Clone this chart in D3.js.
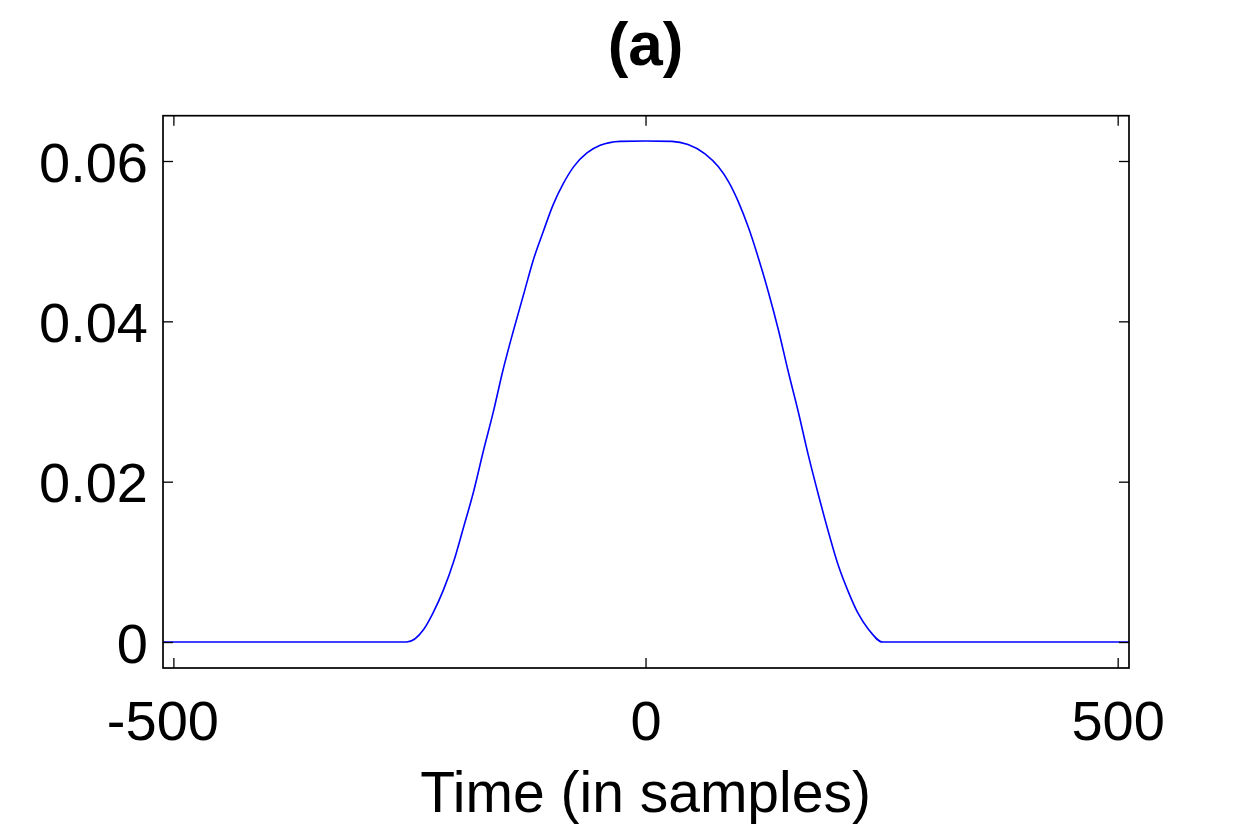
<!DOCTYPE html>
<html>
<head>
<meta charset="utf-8">
<script src="https://cdn.jsdelivr.net/npm/d3@7"></script>
<style>
  body { margin: 0; background: #fff; }
  svg text { font-family: "Liberation Sans", Arial, sans-serif; fill: #000; }
</style>
</head>
<body>
<svg id="pulseViz" width="1248" height="832"></svg>
<script>
// values
const timeSamples = [-511, -253, -235, -225, -214, -203, -193, -182, -172, -161, -151, -140, -129,
  -119, -108, -98, -87, -76, -62, -48, -27, 0, 28, 45, 63, 77, 88, 98, 109, 119, 130, 141, 151,
  162, 172, 183, 194, 204, 215, 225, 236, 251, 512];
const pulseValues = [0, 0, 0.00156, 0.00364, 0.0065, 0.0101, 0.0142, 0.0188, 0.0237, 0.0288,
  0.0339, 0.0388, 0.0434, 0.0476, 0.0513, 0.0545, 0.0572, 0.0593, 0.061, 0.06195, 0.06245,
  0.0625, 0.06245, 0.06205, 0.0609, 0.0593, 0.0574, 0.055, 0.0517, 0.0481, 0.0437, 0.0388,
  0.0338, 0.0286, 0.0235, 0.0184, 0.0136, 0.0096, 0.0062, 0.0036, 0.0016, 0, 0];
const xTicks = [-500, 0, 500];
const xTickLabels = ["-500", "0", "500"];
const yTicks = [0, 0.02, 0.04, 0.06];
const yTickLabels = ["0", "0.02", "0.04", "0.06"];

const plotLeft = 163, plotRight = 1129, plotTop = 115.7, plotBottom = 668;
const tickLen = 10;
const fontSize = 56;

let svg = d3.select("#pulseViz");

const x = d3.scaleLinear().domain([-511, 512]).range([plotLeft, plotRight]);
const y = d3.scaleLinear().domain([-0.00324, 0.06565]).range([plotBottom, plotTop]);

const points = timeSamples.map((t, i) => [t, pulseValues[i]]);

const line = d3
  .line()
  .x((d) => x(d[0]))
  .y((d) => y(d[1]))
  .curve(d3.curveMonotoneX);

svg
  .append("path")
  .datum(points)
  .attr("d", line)
  .attr("fill", "none")
  .attr("stroke", "#0000ff")
  .attr("stroke-width", 1.6);

// axes, ticks pointing inward on all four sides
let xAxis = svg
  .append("g")
  .attr("transform", `translate(0,${plotBottom})`)
  .call(d3.axisBottom(x).tickValues(xTicks).tickSize(-tickLen).tickPadding(32)
    .tickFormat((d, i) => xTickLabels[i]));

let yAxis = svg
  .append("g")
  .attr("transform", `translate(${plotLeft},0)`)
  .call(d3.axisLeft(y).tickValues(yTicks).tickSize(-tickLen).tickPadding(15)
    .tickFormat((d, i) => yTickLabels[i]));

svg
  .append("g")
  .attr("transform", `translate(0,${plotTop})`)
  .call(d3.axisTop(x).tickValues(xTicks).tickSize(-tickLen).tickFormat(""));

svg
  .append("g")
  .attr("transform", `translate(${plotRight},0)`)
  .call(d3.axisRight(y).tickValues(yTicks).tickSize(-tickLen).tickFormat(""));

svg.selectAll(".domain").remove();
svg.selectAll(".tick line").attr("stroke", "#000").attr("stroke-width", 1.3);
svg.selectAll(".tick text")
  .attr("font-size", fontSize)
  .attr("font-family", "Liberation Sans, Arial, sans-serif")
  .attr("fill", "#000");
yAxis.selectAll(".tick text").attr("dy", "0.36em");
// the negative label sits a little left of its tick in the original
xAxis.selectAll(".tick text").filter((d) => d < 0).attr("dx", -11);

svg
  .append("rect")
  .attr("x", plotLeft)
  .attr("y", plotTop)
  .attr("width", plotRight - plotLeft)
  .attr("height", plotBottom - plotTop)
  .attr("fill", "none")
  .attr("stroke", "#000")
  .attr("stroke-width", 1.7);

svg
  .append("text")
  .text("(a)")
  .attr("x", x(0))
  .attr("y", 65)
  .attr("text-anchor", "middle")
  .attr("font-size", 62)
  .attr("font-weight", "bold");

svg
  .append("text")
  .text("Time (in samples)")
  .attr("x", x(0))
  .attr("y", 812)
  .attr("text-anchor", "middle")
  .attr("font-size", 57);
</script>
</body>
</html>
